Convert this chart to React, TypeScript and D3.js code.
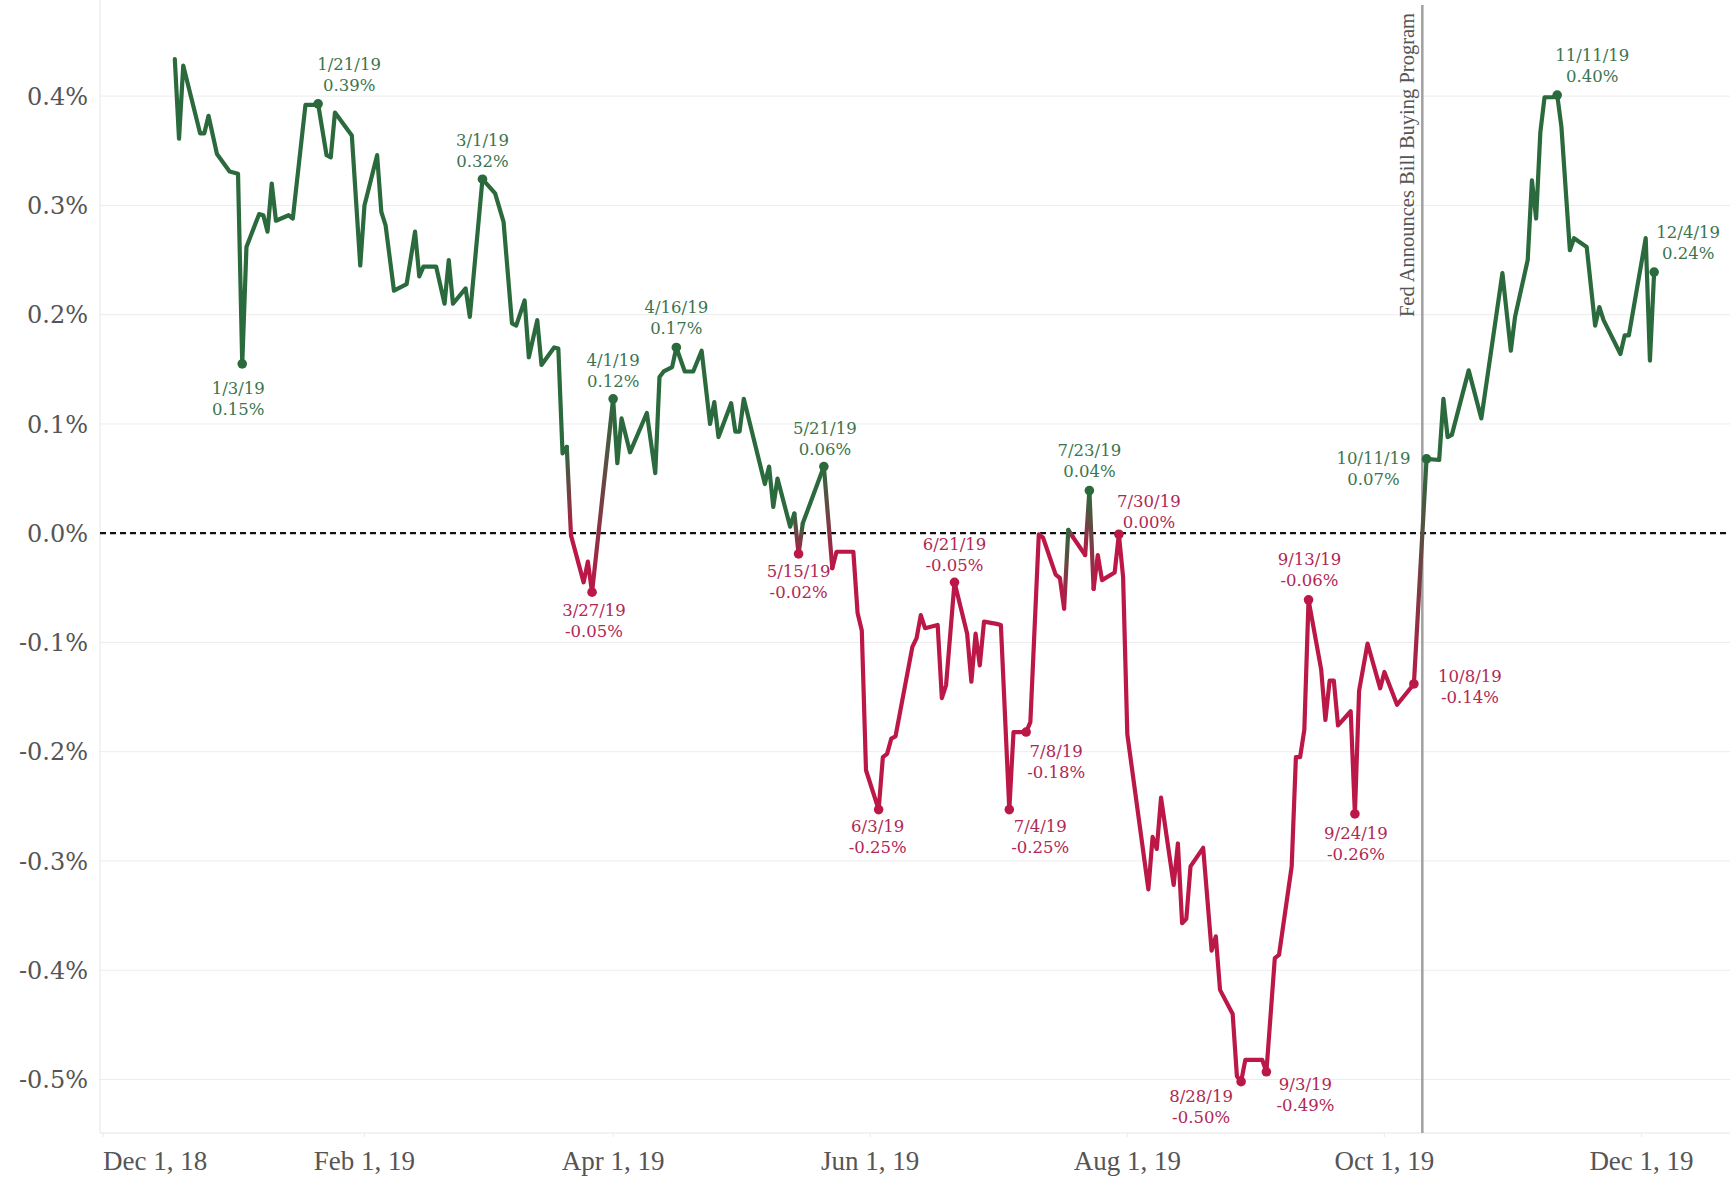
import React from "react";
import * as d3 from "d3";

const W = 1730;
const H = 1179;
const PLOT_LEFT = 100;
const PLOT_RIGHT = 1730;
const PLOT_TOP = 0;
const PLOT_BOTTOM = 1133;

const GREEN = "#2a6a3d";
const RED = "#bb1848";
const GREEN_TEXT = "#3b7550";
const RED_TEXT = "#b02854";

// ---- data (spread, %) ----
const seriesDates: string[] = [
  "2018-12-18", "2018-12-19", "2018-12-20", "2018-12-24", "2018-12-25", "2018-12-26", "2018-12-28", "2018-12-31",
  "2019-01-02", "2019-01-03", "2019-01-04", "2019-01-07", "2019-01-08", "2019-01-09", "2019-01-10", "2019-01-11",
  "2019-01-14", "2019-01-15", "2019-01-18", "2019-01-20", "2019-01-21", "2019-01-23", "2019-01-24", "2019-01-25",
  "2019-01-29", "2019-01-31", "2019-02-01", "2019-02-04", "2019-02-05", "2019-02-06", "2019-02-08", "2019-02-11",
  "2019-02-13", "2019-02-14", "2019-02-15", "2019-02-18", "2019-02-20", "2019-02-21", "2019-02-22", "2019-02-25",
  "2019-02-26", "2019-03-01", "2019-03-04", "2019-03-06", "2019-03-08", "2019-03-09", "2019-03-11", "2019-03-12",
  "2019-03-14", "2019-03-15", "2019-03-18", "2019-03-19", "2019-03-20", "2019-03-21", "2019-03-22", "2019-03-25",
  "2019-03-26", "2019-03-27", "2019-04-01", "2019-04-02", "2019-04-03", "2019-04-05", "2019-04-09", "2019-04-11",
  "2019-04-12", "2019-04-13", "2019-04-15", "2019-04-16", "2019-04-18", "2019-04-20", "2019-04-22", "2019-04-24",
  "2019-04-25", "2019-04-26", "2019-04-29", "2019-04-30", "2019-05-01", "2019-05-02", "2019-05-07", "2019-05-08",
  "2019-05-09", "2019-05-10", "2019-05-13", "2019-05-14", "2019-05-15", "2019-05-16", "2019-05-21", "2019-05-23",
  "2019-05-24", "2019-05-28", "2019-05-29", "2019-05-30", "2019-05-31", "2019-06-03", "2019-06-04", "2019-06-05",
  "2019-06-06", "2019-06-07", "2019-06-11", "2019-06-12", "2019-06-13", "2019-06-14", "2019-06-17", "2019-06-18",
  "2019-06-19", "2019-06-21", "2019-06-24", "2019-06-25", "2019-06-26", "2019-06-27", "2019-06-28", "2019-07-01",
  "2019-07-02", "2019-07-04", "2019-07-05", "2019-07-08", "2019-07-09", "2019-07-11", "2019-07-12", "2019-07-15",
  "2019-07-16", "2019-07-17", "2019-07-18", "2019-07-19", "2019-07-22", "2019-07-23", "2019-07-24", "2019-07-25",
  "2019-07-26", "2019-07-29", "2019-07-30", "2019-07-31", "2019-08-01", "2019-08-06", "2019-08-07", "2019-08-08",
  "2019-08-09", "2019-08-12", "2019-08-13", "2019-08-14", "2019-08-15", "2019-08-16", "2019-08-19", "2019-08-21",
  "2019-08-22", "2019-08-23", "2019-08-26", "2019-08-27", "2019-08-28", "2019-08-29", "2019-09-02", "2019-09-03",
  "2019-09-05", "2019-09-06", "2019-09-09", "2019-09-10", "2019-09-11", "2019-09-12", "2019-09-13", "2019-09-16",
  "2019-09-17", "2019-09-18", "2019-09-19", "2019-09-20", "2019-09-23", "2019-09-24", "2019-09-25", "2019-09-27",
  "2019-09-30", "2019-10-01", "2019-10-04", "2019-10-08", "2019-10-11", "2019-10-14", "2019-10-15", "2019-10-16",
  "2019-10-17", "2019-10-21", "2019-10-24", "2019-10-29", "2019-10-31", "2019-11-01", "2019-11-04", "2019-11-05",
  "2019-11-06", "2019-11-07", "2019-11-08", "2019-11-10", "2019-11-11", "2019-11-12", "2019-11-14", "2019-11-15",
  "2019-11-18", "2019-11-20", "2019-11-21", "2019-11-22", "2019-11-26", "2019-11-27", "2019-11-28", "2019-12-02",
  "2019-12-03", "2019-12-04",
];

const seriesValues: number[] = [
  0.434, 0.361, 0.428, 0.366, 0.366, 0.382, 0.347, 0.331,
  0.329, 0.155, 0.262, 0.292, 0.291, 0.276, 0.320, 0.286,
  0.291, 0.288, 0.392, 0.392, 0.393, 0.346, 0.344, 0.385,
  0.364, 0.245, 0.300, 0.346, 0.294, 0.282, 0.222, 0.228,
  0.276, 0.235, 0.244, 0.244, 0.210, 0.250, 0.210, 0.224,
  0.198, 0.324, 0.311, 0.285, 0.192, 0.190, 0.213, 0.161,
  0.195, 0.154, 0.170, 0.169, 0.073, 0.079, -0.002, -0.045,
  -0.026, -0.054, 0.123, 0.064, 0.105, 0.074, 0.110, 0.055,
  0.143, 0.148, 0.152, 0.170, 0.148, 0.148, 0.167, 0.100,
  0.120, 0.088, 0.119, 0.093, 0.093, 0.123, 0.045, 0.061,
  0.024, 0.050, 0.006, 0.018, -0.019, 0.009, 0.061, -0.032,
  -0.017, -0.017, -0.073, -0.089, -0.217, -0.253, -0.205, -0.202,
  -0.188, -0.186, -0.104, -0.096, -0.075, -0.087, -0.084, -0.151,
  -0.139, -0.045, -0.092, -0.136, -0.092, -0.121, -0.081, -0.083,
  -0.084, -0.253, -0.182, -0.182, -0.173, -0.001, -0.004, -0.038,
  -0.041, -0.069, 0.003, -0.003, -0.020, 0.039, -0.051, -0.020,
  -0.043, -0.036, -0.001, -0.040, -0.184, -0.326, -0.278, -0.289,
  -0.242, -0.322, -0.284, -0.357, -0.353, -0.305, -0.288, -0.382,
  -0.369, -0.418, -0.440, -0.497, -0.502, -0.482, -0.482, -0.493,
  -0.389, -0.386, -0.305, -0.205, -0.205, -0.180, -0.061, -0.125,
  -0.171, -0.135, -0.135, -0.176, -0.163, -0.257, -0.144, -0.101,
  -0.142, -0.127, -0.157, -0.138, 0.068, 0.067, 0.123, 0.088,
  0.090, 0.149, 0.105, 0.238, 0.167, 0.198, 0.250, 0.323,
  0.288, 0.367, 0.399, 0.399, 0.401, 0.372, 0.259, 0.270,
  0.262, 0.190, 0.207, 0.195, 0.164, 0.181, 0.181, 0.270,
  0.158, 0.239,
];

const yTicks: number[] = [-0.5, -0.4, -0.3, -0.2, -0.1, 0, 0.1, 0.2, 0.3, 0.4];
const xTickDates: string[] = ["2018-12-01", "2019-02-01", "2019-04-01", "2019-06-01", "2019-08-01", "2019-10-01", "2019-12-01"];

const annotationDates: string[] = [
  "2019-01-03", "2019-01-21", "2019-03-01", "2019-03-27", "2019-04-01", "2019-04-16", "2019-05-15", "2019-05-21",
  "2019-06-03", "2019-06-21", "2019-07-04", "2019-07-08", "2019-07-23", "2019-07-30", "2019-08-28", "2019-09-03",
  "2019-09-13", "2019-09-24", "2019-10-08", "2019-10-11", "2019-11-11", "2019-12-04",
];
const annotationValues: number[] = [
  0.15, 0.39, 0.32, -0.05, 0.12, 0.17, -0.02, 0.06,
  -0.25, -0.05, -0.25, -0.18, 0.04, 0.0, -0.5, -0.49,
  -0.06, -0.26, -0.14, 0.07, 0.4, 0.24,
];
// layout only: label offset (dx, dy of first line centre) from each annotated point
const labelOffsets: [number, number][] = [
  [-4, 24], [31, -40], [0, -39], [2, 18], [0, -39], [0, -40], [0, 17], [1, -38],
  [-1, 17], [0, -38], [31, 17], [30, 19], [0, -40], [30, -33], [-40, 15], [39, 12],
  [1, -41], [1, 19], [56, -8], [-53, -1], [35, -40], [34, -40],
];

const fedDate = "2019-10-10";
const fedLabel = "Fed Announces Bill Buying Program";

const parse = d3.utcParse("%Y-%m-%d");
const fmtTick = d3.utcFormat("%b %-d, %y");
const fmtAnnDate = d3.utcFormat("%-m/%-d/%y");

export default function App() {
  const x = d3
    .scaleUtc()
    .domain([new Date(Date.UTC(2018, 10, 30, 6)), new Date(Date.UTC(2019, 11, 22))])
    .range([PLOT_LEFT, PLOT_RIGHT]);
  const y = d3.scaleLinear().domain([-0.549, 0.488]).range([PLOT_BOTTOM, PLOT_TOP]);

  const col = (v: number) => (v > 0 ? GREEN : RED);
  const pts = seriesDates.map((d, i) => ({ x: x(parse(d)!), y: y(seriesValues[i]), v: seriesValues[i] }));

  const line = d3
    .line<{ x: number; y: number }>()
    .x((p) => p.x)
    .y((p) => p.y);

  type Run = { color: string; pts: { x: number; y: number }[]; end: number };
  const runs: Run[] = [];
  const grads: { a: any; b: any; ca: string; cb: string; id: string }[] = [];
  let cur: Run | null = null;
  for (let i = 0; i < pts.length - 1; i++) {
    const a = pts[i];
    const b = pts[i + 1];
    const ca = col(a.v);
    const cb = col(b.v);
    if (ca === cb) {
      if (cur && cur.color === ca && cur.end === i) {
        cur.pts.push(b);
        cur.end = i + 1;
      } else {
        cur = { color: ca, pts: [a, b], end: i + 1 };
        runs.push(cur);
      }
    } else {
      grads.push({ a, b, ca, cb, id: `seg${i}` });
      cur = null;
    }
  }

  const fedX = x(parse(fedDate)!);
  const serif = "'DejaVu Serif', Georgia, serif";
  const narrowSerif = "'Liberation Serif', 'Times New Roman', serif";
  const LW = 4.2;

  return (
    <svg
      width={W}
      height={H}
      viewBox={`0 0 ${W} ${H}`}
      style={{ position: "absolute", left: 0, top: 0, background: "#fff" }}
    >
      <rect x={0} y={0} width={W} height={H} fill="#fff" />
      <defs>
        {grads.map((g) => (
          <linearGradient key={g.id} id={g.id} gradientUnits="userSpaceOnUse" x1={g.a.x} y1={g.a.y} x2={g.b.x} y2={g.b.y}>
            <stop offset="0%" stopColor={g.ca} />
            <stop offset="100%" stopColor={g.cb} />
          </linearGradient>
        ))}
      </defs>

      {/* gridlines */}
      {yTicks
        .filter((t) => t !== 0)
        .map((t) => (
          <line key={`g${t}`} x1={PLOT_LEFT} x2={PLOT_RIGHT} y1={y(t)} y2={y(t)} stroke="#ececec" strokeWidth={1} />
        ))}
      {/* axis frame */}
      <line x1={PLOT_LEFT} x2={PLOT_LEFT} y1={PLOT_TOP} y2={PLOT_BOTTOM} stroke="#e6e6e6" strokeWidth={1} />
      <line x1={PLOT_LEFT} x2={PLOT_RIGHT} y1={PLOT_BOTTOM} y2={PLOT_BOTTOM} stroke="#e6e6e6" strokeWidth={1} />

      {/* y labels */}
      {yTicks.map((t) => (
        <text
          key={`yl${t}`}
          x={88}
          y={y(t)}
          dy="0.36em"
          textAnchor="end"
          fontFamily={serif}
          fontSize={24}
          fill="#555"
        >
          {`${t.toFixed(1)}%`}
        </text>
      ))}

      {/* x ticks + labels */}
      {xTickDates.map((d, i) => {
        const xx = x(parse(d)!);
        return (
          <g key={`xt${d}`}>
            <line x1={xx} x2={xx} y1={PLOT_BOTTOM} y2={PLOT_BOTTOM + 4} stroke="#ebebeb" strokeWidth={1} />
            <text
              x={i === 0 ? PLOT_LEFT + 3 : xx}
              y={1170}
              textAnchor={i === 0 ? "start" : "middle"}
              fontFamily={narrowSerif}
              fontSize={27}
              fill="#555"
            >
              {fmtTick(parse(d)!)}
            </text>
          </g>
        );
      })}

      {/* zero line */}
      <line
        x1={PLOT_LEFT}
        x2={PLOT_RIGHT}
        y1={y(0)}
        y2={y(0)}
        stroke="#111"
        strokeWidth={2.2}
        strokeDasharray="6 4"
      />

      {/* Fed reference line */}
      <line x1={fedX} x2={fedX} y1={5} y2={PLOT_BOTTOM} stroke="#a0a0a0" strokeWidth={2.5} />
      <text
        transform={`translate(${fedX - 8},13) rotate(-90)`}
        textAnchor="end"
        fontFamily={narrowSerif}
        fontSize={20.5}
        fill="#555"
      >
        {fedLabel}
      </text>

      {/* series */}
      {runs.map((r, i) => (
        <path
          key={`run${i}`}
          d={line(r.pts) || ""}
          fill="none"
          stroke={r.color}
          strokeWidth={LW}
          strokeLinejoin="round"
          strokeLinecap="round"
        />
      ))}
      {grads.map((g) => (
        <line
          key={`gl${g.id}`}
          x1={g.a.x}
          y1={g.a.y}
          x2={g.b.x}
          y2={g.b.y}
          stroke={`url(#${g.id})`}
          strokeWidth={LW}
          strokeLinecap="round"
        />
      ))}

      {/* annotations */}
      {annotationDates.map((d, i) => {
        const idx = seriesDates.indexOf(d);
        const p = pts[idx];
        const tc = p.v > 0 ? GREEN_TEXT : RED_TEXT;
        const [dx, dy] = labelOffsets[i];
        const cx = p.x + dx;
        const cy = p.y + dy;
        return (
          <g key={`ann${d}`}>
            <circle cx={p.x} cy={p.y} r={4.8} fill={col(p.v)} />
            <text x={cx} y={cy} dy="0.35em" textAnchor="middle" fontFamily={serif} fontSize={16.5} fill={tc}>
              {fmtAnnDate(parse(d)!)}
            </text>
            <text x={cx} y={cy + 21} dy="0.35em" textAnchor="middle" fontFamily={serif} fontSize={16.5} fill={tc}>
              {`${annotationValues[i].toFixed(2)}%`}
            </text>
          </g>
        );
      })}
    </svg>
  );
}
